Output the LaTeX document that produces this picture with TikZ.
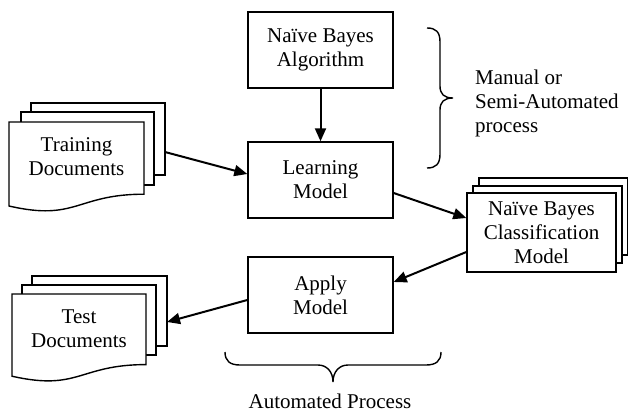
\documentclass[tikz,border=0pt]{standalone}
\usepackage{fontspec}
\setmainfont{Liberation Serif}
\usetikzlibrary{arrows.meta}
\begin{document}
\begin{tikzpicture}[x=1pt,y=-1pt,
  lbl/.style={inner sep=0pt, align=center, font=\fontsize{21}{24}\selectfont},
  box/.style={lbl, draw, line width=1.4pt, fill=white, minimum width=145pt, minimum height=76pt},
  sheet/.style={draw, line width=1.4pt, fill=white},
  arr/.style={line width=2pt, -{Triangle[length=13pt,width=11pt]}},
  bracestyle/.style={line width=1.4pt}]
\useasboundingbox (0,0) rectangle (628,412);
\fill[white] (0,0) rectangle (628,412);

% centre column boxes
\node[box] (algo)  at (320.5,50)  {Naïve Bayes\\Algorithm};
\node[box] (learn) at (320.5,180) {Learning\\Model};
\node[box] (apply) at (320.5,295) {Apply\\Model};

% training documents
\draw[sheet] (31,103) rectangle (165,175);
\draw[sheet] (21,112) rectangle (154,185);
\draw[sheet] (9,122) -- (144,122) -- (144,194.2) .. controls (76.5,194.2) and (76.5,221.6) .. (9,206) -- cycle;
\node[lbl] (train) at (76.5,157) {Training\\Documents};
\coordinate (trainout) at (165,152);

% test documents
\draw[sheet] (32,276) rectangle (167,346);
\draw[sheet] (22,285) rectangle (156,355);
\draw[sheet] (12,294) -- (146,294) -- (146,364.6) .. controls (79,364.6) and (79,391.4) .. (12,376.2) -- cycle;
\node[lbl] (test) at (79,329) {Test\\Documents};
\coordinate (testin) at (167,322);

% classification model (stacked)
\draw[sheet] (479,178) rectangle (627.3,255);
\draw[sheet] (473,186) rectangle (622,263);
\node[lbl, draw, line width=1.4pt, fill=white, minimum width=149pt, minimum height=79pt] (nbc) at (541.5,232.5) {Naïve Bayes\\Classification\\Model};

% connectors
\draw[arr] (algo.south) -- (learn.north);
\draw[arr] (trainout) -- ([yshift=6pt]learn.west);
\draw[arr] ([yshift=-13pt]learn.east) -- ([yshift=14.5pt]nbc.west);
\draw[arr] ([yshift=-19.5pt]nbc.west) -- ([yshift=13pt]apply.east);
\draw[arr] ([yshift=-5pt]apply.west) -- (testin);

% right brace
\draw[bracestyle] (427,28) .. controls (436,28) and (440,32) .. (440,42) -- (440,86)
  .. controls (440,94) and (444,98) .. (453,98)
  .. controls (444,98) and (440,102) .. (440,110) -- (440,154)
  .. controls (440,164) and (436,168) .. (427,168);
\node[lbl, align=left, anchor=north west] (manual) at (475,69.5) {Manual or\\Semi-Automated\\process};

% bottom brace
\draw[bracestyle] (225,352) .. controls (225,361) and (230,365) .. (240,365) -- (318,365)
  .. controls (327,365) and (333,372) .. (333,382)
  .. controls (333,372) and (339,365) .. (348,365) -- (426,365)
  .. controls (436,365) and (441,361) .. (441,352);
\node[lbl, anchor=base] (auto) at (330,408) {Automated Process};
\end{tikzpicture}
\end{document}
